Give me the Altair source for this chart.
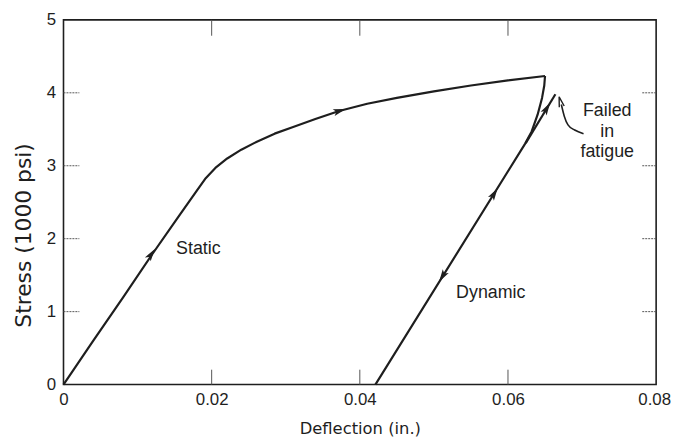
import altair as alt
import pandas as pd

# ---- data ----
static_x = [0.0, 0.0040, 0.0080, 0.0120, 0.0155, 0.0180, 0.0192, 0.0205, 0.0221, 0.0240,
            0.0261, 0.0285, 0.0310, 0.0340, 0.0372, 0.0410, 0.0450, 0.0500, 0.0550, 0.0600, 0.0650]
static_y = [0.0, 0.60, 1.19, 1.79, 2.30, 2.66, 2.83, 2.97, 3.10, 3.22,
            3.33, 3.44, 3.53, 3.64, 3.75, 3.85, 3.93, 4.02, 4.10, 4.17, 4.23]

dynamic_x = [0.0650, 0.0649, 0.0646, 0.0640, 0.0632, 0.0623, 0.0421]
dynamic_y = [4.23, 4.10, 3.93, 3.70, 3.47, 3.30, 0.0]

fatigue_x = [0.0624, 0.0664]
fatigue_y = [3.31, 3.98]

pointer_x = [0.0702, 0.0690, 0.0681, 0.0676, 0.0672]
pointer_y = [3.44, 3.49, 3.56, 3.68, 3.84]

arrow_x = [0.0118, 0.0372, 0.0512, 0.0581, 0.0652]
arrow_y = [1.78, 3.75, 1.49, 2.61, 3.78]
arrow_angle = [34, 74, 212, 32, 31]

open_arrow_x = [0.0671]
open_arrow_y = [3.87]
open_arrow_angle = [345]

label_text = ["Static", "Dynamic"]
label_x = [0.0152, 0.0530]
label_y = [1.86, 1.25]

note_text = ["Failed", "in", "fatigue"]
note_x = [0.0734, 0.0734, 0.0734]
note_y = [3.75, 3.46, 3.19]

x_ticks = [0, 0.02, 0.04, 0.06, 0.08]
y_ticks = [0, 1, 2, 3, 4, 5]
x_inner_ticks = [0.02, 0.04, 0.06]
y_inner_ticks = [1, 2, 3, 4]

# ---- tables ----
def line_df(xs, ys, name):
    return pd.DataFrame({"x": xs, "y": ys, "o": list(range(len(xs))), "s": name})

curves = pd.concat([
    line_df(static_x, static_y, "static"),
    line_df(dynamic_x, dynamic_y, "dynamic"),
    line_df(fatigue_x, fatigue_y, "fatigue"),
], ignore_index=True)
pointer = line_df(pointer_x, pointer_y, "pointer")
arrows = pd.DataFrame({"x": arrow_x, "y": arrow_y, "a": arrow_angle})
open_arrows = pd.DataFrame({"x": open_arrow_x, "y": open_arrow_y, "a": open_arrow_angle})
labels = pd.DataFrame({"x": label_x, "y": label_y, "t": label_text})
notes = pd.DataFrame({"x": note_x, "y": note_y, "t": note_text})
xt = pd.DataFrame({"x": x_inner_ticks})
yt = pd.DataFrame({"y": y_inner_ticks})

W, H = 598, 368
FONT = "Liberation Sans"
INK = "#1e1e1e"

X = alt.X("x:Q",
          scale=alt.Scale(domain=[0, 0.08], nice=False, zero=False),
          axis=alt.Axis(values=x_ticks, format="~g", title="Deflection (in.)",
                        labelPadding=7, titlePadding=13, labelFlush=False,
                        titleFont="DejaVu Sans", titleFontSize=16.5,
                        labelOffset={"condition": {"test": "datum.value == 0.08", "value": -2}, "value": 0}))
Y = alt.Y("y:Q",
          scale=alt.Scale(domain=[0, 5], nice=False, zero=False),
          axis=alt.Axis(values=y_ticks, format="d", title="Stress (1000 psi)",
                        labelPadding=8, titlePadding=11, titleFontSize=22,
                        titleFont="DejaVu Sans", titleY=217))

line = alt.Chart(curves).mark_line(color=INK, strokeWidth=2.2, strokeJoin="round").encode(
    x=X, y=Y, detail="s:N", order="o:Q")
pline = alt.Chart(pointer).mark_line(color=INK, strokeWidth=1.6, interpolate="monotone").encode(
    x=X, y=Y, order="o:Q")

arrow_shape = "M0,-1L0.5,0.8L0,0.4L-0.5,0.8Z"
heads = alt.Chart(arrows).mark_point(shape=arrow_shape, filled=True, color=INK, size=200,
                                     opacity=1).encode(
    x=X, y=Y, angle=alt.Angle("a:Q", scale=None))
open_heads = alt.Chart(open_arrows).mark_point(shape="M-0.45,0.8L0,-1L0.45,0.8", filled=False,
                                               color=INK, size=130, strokeWidth=1.4,
                                               opacity=1).encode(
    x=X, y=Y, angle=alt.Angle("a:Q", scale=None))

txt = alt.Chart(labels).mark_text(align="left", baseline="middle", font=FONT, fontSize=18,
                                  color=INK).encode(x=X, y=Y, text="t:N")
note = alt.Chart(notes).mark_text(align="center", baseline="middle", font=FONT, fontSize=18,
                                  color=INK).encode(x=X, y=Y, text="t:N")

tick_style = dict(color="#555", strokeWidth=1)
top_ticks = alt.Chart(xt).mark_rule(**tick_style).encode(x=X, y=alt.value(0), y2=alt.value(16))
bot_ticks = alt.Chart(xt).mark_rule(**tick_style).encode(x=X, y=alt.value(H), y2=alt.value(H - 15))
left_ticks = alt.Chart(yt).mark_rule(strokeDash=[2, 1], **tick_style).encode(
    y=Y, x=alt.value(0), x2=alt.value(16))
right_ticks = alt.Chart(yt).mark_rule(strokeDash=[2, 1], **tick_style).encode(
    y=Y, x=alt.value(W), x2=alt.value(W - 15))

chart = alt.layer(
    top_ticks, bot_ticks, left_ticks, right_ticks, line, pline, heads, open_heads, txt, note
).properties(
    width=W, height=H,
    autosize=alt.AutoSizeParams(type="none"),
    padding={"left": 56, "top": 10, "right": 15, "bottom": 58},
    background="white",
).configure_view(
    stroke=INK, strokeWidth=1.6
).configure_axis(
    grid=False, domain=False, ticks=False,
    labelFont=FONT, labelFontSize=17, labelColor=INK,
    titleFont=FONT, titleFontSize=17, titleColor=INK, titleFontWeight="normal",
)

chart.save("out.html", embed_options={"renderer": "svg", "actions": False})
